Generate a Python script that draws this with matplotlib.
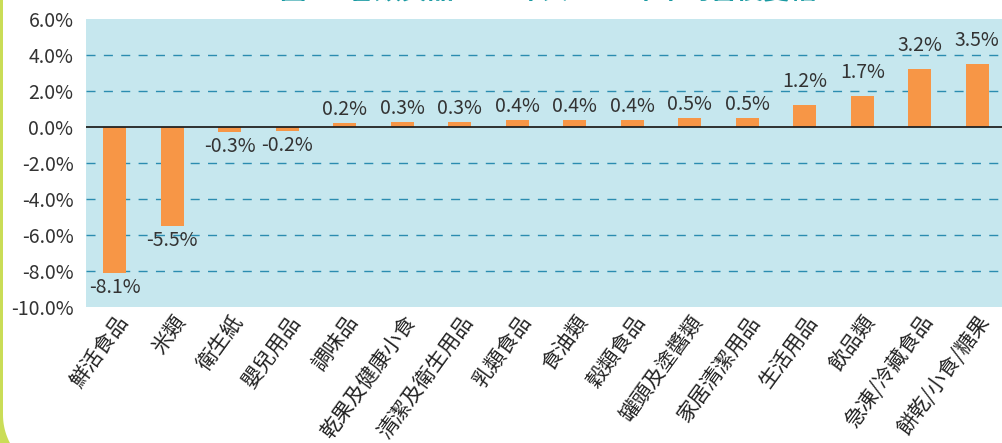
import matplotlib
matplotlib.use("Agg")
import matplotlib.pyplot as plt
from matplotlib.patches import Polygon
from matplotlib.transforms import offset_copy
import numpy as np

plt.rcParams['font.family'] = ['Noto Sans CJK TC', 'DejaVu Sans']

categories = ["鮮活食品", "米類", "衛生紙", "嬰兒用品", "調味品", "乾果及健康小食",
              "清潔及衛生用品", "乳類食品", "食油類", "穀類食品", "罐頭及塗醬類",
              "家居清潔用品", "生活用品", "飲品類", "急凍/冷藏食品", "餅乾/小食/糖果"]
values = [-8.1, -5.5, -0.3, -0.2, 0.2, 0.3, 0.3, 0.4, 0.4, 0.4, 0.5, 0.5, 1.2, 1.7, 3.2, 3.5]
yticks = [6, 4, 2, 0, -2, -4, -6, -8, -10]
title = "圖4　各類貨品2023年與2022年平均售價變幅"

W, H = 1003, 443
fig = plt.figure(figsize=(W / 100, H / 100), dpi=100)
fig.patch.set_facecolor("white")

# left lime frame with rounded bottom-left corner (figure pixel coords, y up)
R = 60.0
cx, cy = 3 + R, 443 - 415
theta = np.linspace(np.pi, 1.5 * np.pi, 40)
arc = np.column_stack([cx + R * np.cos(theta), cy + R * np.sin(theta)])
pts = [(0, H), (3, H), (3, cy)] + [tuple(p) for p in arc] + [(cx, -5), (0, -5)]
pts = [(px / W, py / H) for px, py in pts]
fig.patches.append(Polygon(pts, closed=True, transform=fig.transFigure,
                           facecolor="#cadd57", edgecolor="none", zorder=0))

ax = fig.add_axes([86 / W, 1 - 307 / H, (16 * 57.5) / W, (307 - 19) / H])
ax.set_facecolor("#c6e7ee")
x = np.arange(len(categories))
ax.bar(x, values, width=0.4, color="#f79646", zorder=3)
ax.set_xlim(-0.5, len(categories) - 0.5)
ax.set_ylim(-10, 6)
ax.set_yticks(yticks)
ax.set_yticklabels([f"{v:.1f}%" for v in yticks], fontsize=14, color="#333333")
for g in [4, 2, -2, -4, -6, -8]:
    ax.axhline(g, color="#2b8cb0", lw=1, ls=(0, (6.5, 6)), zorder=1)
ax.axhline(0, color="#222222", lw=1.3, zorder=4)
for s in ax.spines.values():
    s.set_visible(False)
ax.tick_params(axis="y", length=0, pad=9)
ax.tick_params(axis="x", length=0, pad=3)
ax.set_xticks(x)
ax.set_xticklabels(categories, rotation=54, ha="right", va="top",
                   rotation_mode="anchor", fontsize=15, color="#222222")

for xi, v in zip(x, values):
    if v >= 0:
        off = 13 if v >= 1 else 3
        tr = offset_copy(ax.transData, fig=fig, x=0, y=off * 72 / 100, units="points")
        ax.text(xi, v, f"{v:.1f}%", ha="center", va="bottom", transform=tr,
                fontsize=14, color="#333333", zorder=5)
    else:
        tr = offset_copy(ax.transData, fig=fig, x=0, y=-4 * 72 / 100, units="points")
        ax.text(xi, v, f"{v:.1f}%", ha="center", va="top", transform=tr,
                fontsize=14, color="#333333", zorder=5)

fig.text(548 / W, 1 - 5 / H, title, ha="center", va="bottom",
         fontsize=19, fontweight="bold", color="#1a9aa2")

fig.savefig("out.png", dpi=100)
